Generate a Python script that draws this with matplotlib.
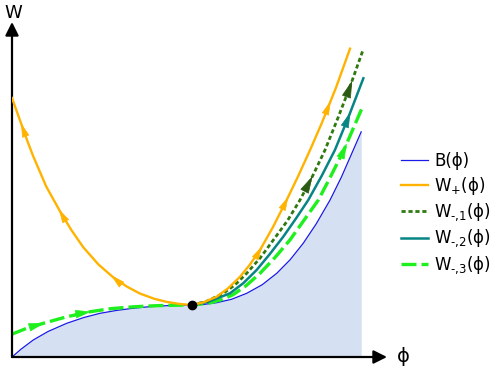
import numpy as np
import matplotlib.pyplot as plt

# values (phi scaled so the fixed point sits at 1, 1)
phi_B = [0.0, 0.05, 0.118, 0.2, 0.304, 0.4, 0.489, 0.58, 0.672, 0.76, 0.859, 0.93, 1.0,
         1.063, 1.137, 1.22, 1.304, 1.39, 1.471, 1.545, 1.618, 1.69, 1.767, 1.83, 1.896, 1.94]
B = [0.0, 0.15, 0.327, 0.49, 0.648, 0.76, 0.840, 0.895, 0.937, 0.966, 0.987, 0.997, 1.0,
     1.01, 1.044, 1.11, 1.225, 1.39, 1.610, 1.87, 2.187, 2.56, 3.019, 3.46, 3.981, 4.33]

phi_Wp = [0.0, 0.03, 0.059, 0.088, 0.118, 0.19, 0.267, 0.33, 0.396, 0.48, 0.563, 0.64, 0.711,
          0.79, 0.859, 0.93, 1.0, 1.063, 1.137, 1.2, 1.267, 1.32, 1.378, 1.45, 1.526, 1.59,
          1.656, 1.72, 1.8, 1.878]
Wp = [4.98, 4.69, 4.41, 4.13, 3.86, 3.28, 2.80, 2.44, 2.11, 1.78, 1.53, 1.35, 1.22,
      1.12, 1.06, 1.02, 1.0, 1.05, 1.16, 1.32, 1.544, 1.77, 2.058, 2.50, 3.019, 3.48,
      3.981, 4.49, 5.18, 5.93]

phi_W1 = [1.0, 1.08, 1.174, 1.24, 1.304, 1.38, 1.452, 1.53, 1.6, 1.67, 1.739, 1.81, 1.88, 1.952]
W1 = [1.0, 1.07, 1.225, 1.39, 1.610, 1.91, 2.25, 2.62, 3.019, 3.48, 3.981, 4.59, 5.22, 5.923]

phi_W2 = [1.0, 1.09, 1.211, 1.285, 1.359, 1.43, 1.507, 1.575, 1.646, 1.72, 1.794, 1.87, 1.952]
W2 = [1.0, 1.06, 1.225, 1.42, 1.673, 1.97, 2.313, 2.65, 3.019, 3.48, 3.981, 4.62, 5.36]

phi_W3 = [0.0, 0.08, 0.174, 0.3, 0.433, 0.55, 0.674, 0.79, 0.896, 1.0, 1.1, 1.17, 1.229,
          1.3, 1.378, 1.46, 1.544, 1.62, 1.702, 1.77, 1.844, 1.952]
W3 = [0.44, 0.55, 0.648, 0.77, 0.87, 0.93, 0.965, 0.985, 0.995, 1.0, 1.04, 1.11, 1.2,
      1.37, 1.610, 1.91, 2.25, 2.62, 3.019, 3.47, 3.981, 4.846]

labels = ['B(ϕ)', 'W$_{+}$(ϕ)', r'W$_{\text{-,1}}$(ϕ)', r'W$_{\text{-,2}}$(ϕ)', r'W$_{\text{-,3}}$(ϕ)']

c_B = '#1a1ae6'
c_Wp = '#ffb300'
c_W1 = '#2f7a0e'
c_W1_arrow = '#2b5a12'
c_W2 = '#078585'
c_W3 = '#1ef01e'

fig = plt.figure(figsize=(4.98, 3.74), dpi=100)
ax = fig.add_axes([12/498, 17/374, 375/498, 335/374])
ax.set_xlim(0, 375/180)
ax.set_ylim(0, 335/52)
ax.axis('off')

ax.fill_between(phi_B, B, 0, color='#d6e0f3', lw=0, zorder=1)
lB, = ax.plot(phi_B, B, color=c_B, lw=0.9, zorder=2)
lW3, = ax.plot(phi_W3, W3, color=c_W3, lw=2.4, ls=(0, (4.5, 1.5)), zorder=3)
lW2, = ax.plot(phi_W2, W2, color=c_W2, lw=1.8, zorder=4)
lW1, = ax.plot(phi_W1, W1, color=c_W1, lw=2.0, ls=(0, (1.5, 1.0)), zorder=5)
lWp, = ax.plot(phi_Wp, Wp, color=c_Wp, lw=1.7, zorder=6)
ax.plot([1.0], [1.0], 'o', color='black', ms=6, zorder=8)


def arrows(px, py, where, color, sign=1, size=15):
    for p in where:
        y0 = np.interp(p, px, py)
        y1 = np.interp(p + sign * 0.01, px, py)
        ax.annotate('', xy=(p + sign * 0.01, y1), xytext=(p, y0),
                    arrowprops=dict(arrowstyle='-|>,head_length=0.6,head_width=0.16',
                                    color=color, lw=0.5,
                                    mutation_scale=size, shrinkA=0, shrinkB=0),
                    zorder=7)


arrows(phi_Wp, Wp, [0.06, 0.27, 0.56], c_Wp, sign=-1)
arrows(phi_Wp, Wp, [1.38, 1.525, 1.76], c_Wp)
arrows(phi_W1, W1, [1.66, 1.88], c_W1_arrow, size=19)
arrows(phi_W2, W2, [1.87], c_W2, size=17)
arrows(phi_W3, W3, [0.17, 0.43, 1.85], c_W3, size=17)

# axes with arrowheads
ax.annotate('', xy=(1, 0), xytext=(0, 0), xycoords='axes fraction',
            arrowprops=dict(arrowstyle='-|>', color='black', lw=1.6,
                            mutation_scale=20, shrinkA=0, shrinkB=0))
ax.annotate('', xy=(0, 1), xytext=(0, 0), xycoords='axes fraction',
            arrowprops=dict(arrowstyle='-|>', color='black', lw=1.6,
                            mutation_scale=20, shrinkA=0, shrinkB=0))
fig.text(13/498, 1 - 13/374, 'W', fontsize=13, ha='center', va='center')
fig.text(403/498, 1 - 356/374, 'ϕ', fontsize=14, ha='center', va='center')

fig.legend([lB, lWp, lW1, lW2, lW3], labels, loc='center left',
           bbox_to_anchor=(401/498, 1 - 214/374), frameon=False,
           fontsize=12, handlelength=1.6, handletextpad=0.4,
           labelspacing=0.28, borderpad=0, borderaxespad=0)

fig.savefig('out.png', dpi=100)
